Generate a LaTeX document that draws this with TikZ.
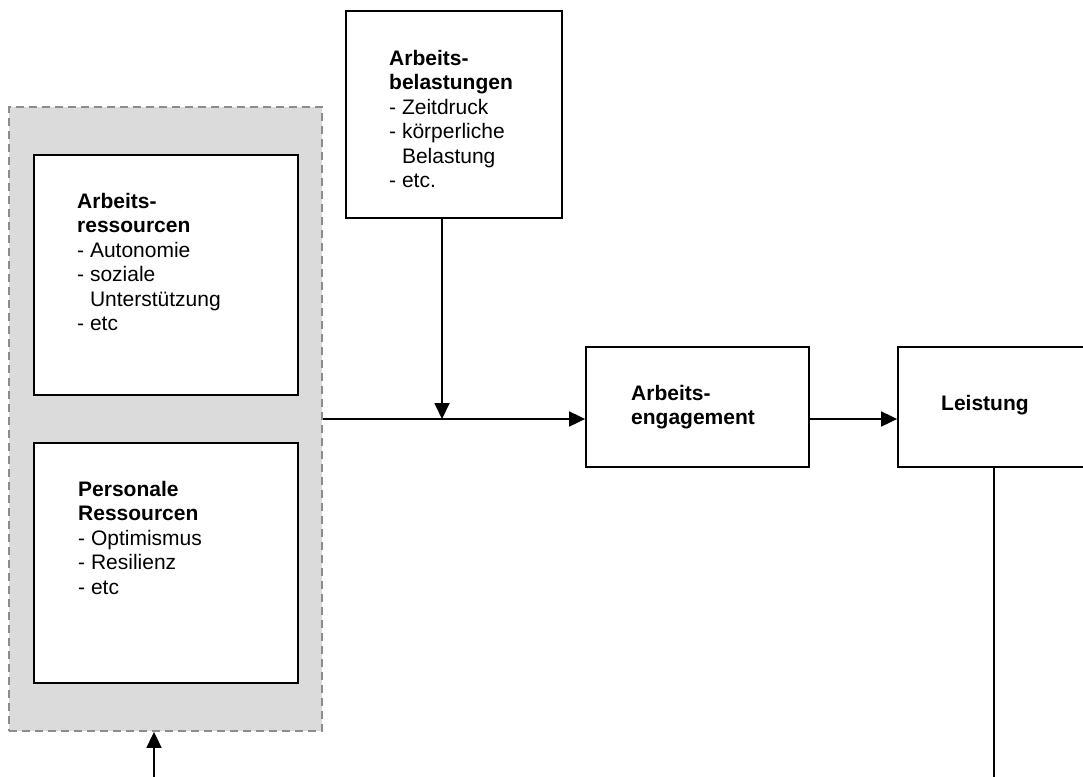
\documentclass[tikz,border=0pt]{standalone}
\usepackage{fontspec}
\setmainfont{Liberation Sans}
\usetikzlibrary{arrows.meta}
\begin{document}
\begin{tikzpicture}[x=1pt,y=-1pt,
  box/.style={draw=black,line width=1.8pt,fill=white,minimum width=#1,inner sep=0pt},
  txt/.style={anchor=north west,inner sep=0pt,align=left,font=\fontsize{21}{24.5}\selectfont},
  conn/.style={draw=black,line width=1.8pt},
  arr/.style={conn,-{Triangle[length=16pt,width=15pt]}},
  group/.style={draw=black!45,fill=black!14,line width=1.8pt,dash pattern=on 8pt off 5pt,inner sep=0pt}]
\useasboundingbox (0,0) rectangle (1083,776);
\clip (0,0) rectangle (1083,776);
% gray group
\node[group,minimum width=313pt,minimum height=624pt] (grp) at (165.5,419) {};
% resource boxes
\node[box=264pt,minimum height=240pt] (res1) at (166,275) {};
\node[box=264pt,minimum height=240pt] (res2) at (166,563) {};
\node[box=216pt,minimum height=207pt] (bel) at (454,114.5) {};
\node[box=223pt,minimum height=120pt] (eng) at (697.5,407) {};
\node[box=200pt,minimum height=120pt] (lei) at (998,407) {};
% texts
\node[txt] (t1) at (77,193) {\textbf{Arbeits-}\\\textbf{ressourcen}\\- Autonomie\\- soziale\\\hphantom{-}\ Unterstützung\\- etc};
\node[txt] (t2) at (78,481) {\textbf{Personale}\\\textbf{Ressourcen}\\- Optimismus\\- Resilienz\\- etc};
\node[txt] (t3) at (389,50) {\textbf{Arbeits-}\\\textbf{belastungen}\\- Zeitdruck\\- körperliche\\\hphantom{-}\ Belastung\\- etc.};
\node[txt] (t4) at (631,385) {\textbf{Arbeits-}\\\textbf{engagement}};
\node[txt] (t5) at (941,395) {\textbf{Leistung}};
% connectors
\coordinate (j) at (442,419);
\coordinate (gbot) at (154,790);
\coordinate (lbot) at (994,790);
\draw[arr] (grp.east) -- (eng.west |- grp.east);
\draw[arr] (bel.south -| j) -- (j);
\draw[arr] (eng.east |- j) -- (lei.west |- j);
\draw[conn] (lei.south -| lbot) -- (lbot);
\draw[arr] (gbot) -- (grp.south -| gbot);
\end{tikzpicture}
\end{document}
